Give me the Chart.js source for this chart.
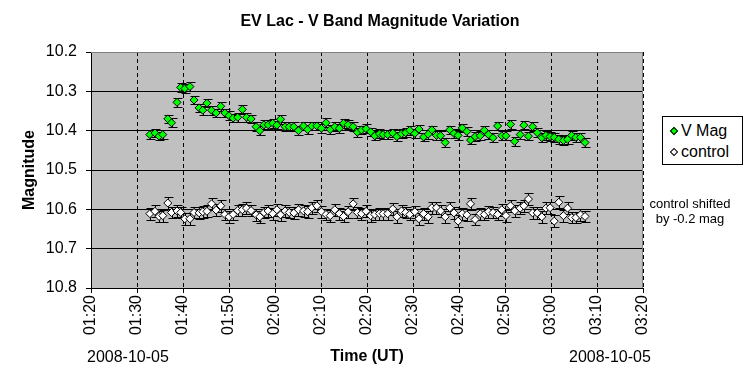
<!DOCTYPE html>
<html>
<head>
<meta charset="utf-8">
<script src="https://cdn.jsdelivr.net/npm/chart.js@4.4.0/dist/chart.umd.min.js"></script>
<style>
    body { margin: 0; background: #fff; font-family: "Liberation Sans", Arial, sans-serif; }
    #wrap { position: relative; width: 750px; height: 386px; }
    .date { position: absolute; top: 348px; font-size: 16px; color: #000; }
    #legend {
        position: absolute; left: 662px; top: 116px; width: 79px; height: 47px;
        border: 1px solid #000; background: #fff; font-size: 16px;
    }
    #legend div { position: absolute; left: 0; height: 20px; line-height: 20px; }
    #legend span.mk {
        position: absolute; left: 8px; top: 7px; width: 4px; height: 4px;
        border: 1px solid #000; transform: rotate(45deg);
    }
    #legend span.txt { position: absolute; left: 18px; white-space: nowrap; }
    #note { position: absolute; left: 640px; top: 196px; width: 100px; text-align: center; font-size: 13px; line-height: 15px; }
</style>
</head>
<body>
<div id="wrap">
    <canvas id="magChart" width="750" height="386"></canvas>
    <div class="date" style="left:87px">2008-10-05</div>
    <div class="date" style="left:569px">2008-10-05</div>
    <div id="legend">
        <div style="top:4px"><span class="mk" style="background:#00ff00"></span><span class="txt">V Mag</span></div>
        <div style="top:25px"><span class="mk" style="background:#fff"></span><span class="txt">control</span></div>
    </div>
    <div id="note">control shifted<br>by -0.2 mag</div>
</div>
<script>
// tempos em minutos desde 00:00 UT
const times = [
    92.8, 93.9, 94.8, 95.6, 96.7, 97.5, 98.7, 99.5, 100.4, 101.5,
    102.4, 103.5, 104.3, 105.2, 106.2, 107.2, 108.2, 109.1, 110.0, 110.9,
    111.9, 112.9, 113.8, 114.8, 115.9, 116.7, 117.6, 118.5, 119.5, 120.4,
    121.2, 122.2, 123.1, 124.1, 125.1, 126.2, 127.1, 128.0, 129.1, 130.1,
    131.1, 132.0, 133.0, 134.0, 134.9, 135.9, 137.0, 137.9, 138.8, 139.8,
    140.8, 141.7, 142.7, 143.5, 144.5, 145.6, 146.5, 147.5, 148.4, 149.3,
    150.4, 151.3, 152.3, 153.3, 154.1, 155.1, 156.0, 157.0, 158.0, 158.9,
    159.8, 160.7, 161.7, 162.5, 163.5, 164.6, 165.5, 166.4, 167.4, 168.4,
    169.3, 170.2, 171.2, 172.1, 173.3, 174.1, 175.1, 176.0, 177.0, 178.0,
    178.9, 179.8, 180.7, 181.7, 182.7, 183.6, 184.5, 185.4, 186.4, 187.4
];

const vMag = [
    10.410, 10.406, 10.414, 10.410, 10.370, 10.380, 10.328, 10.290, 10.293, 10.288,
    10.322, 10.342, 10.348, 10.330, 10.348, 10.355, 10.338, 10.355, 10.362, 10.368,
    10.366, 10.346, 10.366, 10.370, 10.390, 10.400, 10.385, 10.385, 10.381, 10.386,
    10.371, 10.390, 10.390, 10.390, 10.400, 10.388, 10.397, 10.388, 10.388, 10.394,
    10.380, 10.397, 10.390, 10.394, 10.381, 10.385, 10.390, 10.404, 10.398, 10.395,
    10.403, 10.413, 10.408, 10.410, 10.410, 10.406, 10.415, 10.408, 10.405, 10.399,
    10.407, 10.396, 10.416, 10.409, 10.398, 10.412, 10.413, 10.430, 10.398, 10.407,
    10.412, 10.393, 10.402, 10.424, 10.415, 10.413, 10.399, 10.410, 10.418, 10.388,
    10.413, 10.413, 10.384, 10.427, 10.410, 10.386, 10.414, 10.390, 10.405, 10.418,
    10.412, 10.415, 10.417, 10.422, 10.425, 10.422, 10.412, 10.417, 10.417, 10.430
];

const controlMag = [
    10.611, 10.605, 10.618, 10.616, 10.584, 10.608, 10.604, 10.608, 10.624, 10.624,
    10.608, 10.609, 10.606, 10.605, 10.586, 10.602, 10.591, 10.613, 10.619, 10.613,
    10.603, 10.601, 10.597, 10.603, 10.614, 10.619, 10.608, 10.604, 10.611, 10.601,
    10.614, 10.604, 10.608, 10.609, 10.601, 10.604, 10.606, 10.596, 10.591, 10.606,
    10.613, 10.616, 10.601, 10.611, 10.618, 10.606, 10.586, 10.608, 10.611, 10.605,
    10.616, 10.613, 10.611, 10.611, 10.611, 10.599, 10.619, 10.604, 10.608, 10.613,
    10.606, 10.624, 10.611, 10.619, 10.596, 10.596, 10.604, 10.619, 10.596, 10.609,
    10.630, 10.611, 10.614, 10.586, 10.626, 10.611, 10.613, 10.606, 10.608, 10.613,
    10.601, 10.616, 10.591, 10.604, 10.597, 10.591, 10.574, 10.609, 10.609, 10.619,
    10.597, 10.596, 10.630, 10.582, 10.616, 10.597, 10.621, 10.621, 10.614, 10.618
];

const vErr = 0.011;
const controlErr = 0.015;

const timeTicks = ['01:20', '01:30', '01:40', '01:50', '02:00', '02:10', '02:20',
    '02:30', '02:40', '02:50', '03:00', '03:10', '03:20'];
const magTicks = ['10.2', '10.3', '10.4', '10.5', '10.6', '10.7', '10.8'];

Chart.defaults.font.family = '"Liberation Sans", Arial, sans-serif';
Chart.defaults.font.size = 16;
Chart.defaults.color = '#000';

const toPoints = (ys) => ys.map((v, i) => ({ x: times[i], y: v }));

// fundo cinza, moldura e barras de erro
const plotExtras = {
    id: 'plotExtras',
    beforeDraw(chart) {
        const a = chart.chartArea;
        const ctx = chart.ctx;
        ctx.save();
        ctx.fillStyle = '#c0c0c0';
        ctx.fillRect(a.left, a.top, a.right - a.left, a.bottom - a.top);
        ctx.restore();
    },
    beforeDatasetsDraw(chart) {
        const { ctx, chartArea: a, scales: { x, y } } = chart;
        ctx.save();
        ctx.strokeStyle = '#808080';
        ctx.lineWidth = 1;
        ctx.beginPath();
        ctx.moveTo(a.left, a.top + 0.5);
        ctx.lineTo(a.right - 0.5, a.top + 0.5);
        ctx.lineTo(a.right - 0.5, a.bottom);
        ctx.stroke();

        ctx.strokeStyle = '#000';
        chart.data.datasets.forEach(ds => {
            ds.data.forEach(p => {
                const px = Math.round(x.getPixelForValue(p.x)) + 0.5;
                const top = Math.round(y.getPixelForValue(p.y - ds.err)) + 0.5;
                const bot = Math.round(y.getPixelForValue(p.y + ds.err)) + 0.5;
                ctx.beginPath();
                ctx.moveTo(px, top);
                ctx.lineTo(px, bot);
                ctx.moveTo(px - 4, top);
                ctx.lineTo(px + 5, top);
                ctx.moveTo(px - 4, bot);
                ctx.lineTo(px + 5, bot);
                ctx.stroke();
            });
        });
        ctx.restore();
    }
};

new Chart(document.getElementById('magChart'), {
    type: 'scatter',
    data: {
        datasets: [{
            label: 'V Mag',
            data: toPoints(vMag),
            err: vErr,
            pointStyle: 'rectRot',
            pointRadius: 4,
            pointBackgroundColor: '#00ff00',
            pointBorderColor: '#000',
            pointBorderWidth: 1
        }, {
            label: 'control',
            data: toPoints(controlMag),
            err: controlErr,
            pointStyle: 'rectRot',
            pointRadius: 4,
            pointBackgroundColor: '#fff',
            pointBorderColor: '#000',
            pointBorderWidth: 1
        }]
    },
    options: {
        responsive: false,
        animation: false,
        layout: { padding: { left: 10, right: 0, top: 0, bottom: 0 } },
        plugins: {
            legend: { display: false },
            tooltip: { enabled: false },
            title: {
                display: true,
                text: 'EV Lac - V Band Magnitude Variation',
                font: { size: 16, weight: 'bold' },
                padding: { top: 12, bottom: 20.8 }
            }
        },
        scales: {
            x: {
                type: 'linear',
                min: 80,
                max: 200,
                afterFit: (s) => { s.height = 98; },
                ticks: {
                    stepSize: 10,
                    autoSkip: false,
                    maxRotation: 90,
                    minRotation: 90,
                    padding: 2,
                    callback: (v) => timeTicks[Math.round((v - 80) / 10)]
                },
                grid: { color: '#000', tickColor: '#000', tickLength: 5, tickBorderDash: [] },
                border: { color: '#000', dash: [4, 3] },
                title: {
                    display: true,
                    text: 'Time (UT)',
                    font: { size: 16, weight: 'bold' },
                    padding: { top: 0, bottom: 19.4 }
                }
            },
            y: {
                reverse: true,
                min: 10.2,
                max: 10.8,
                afterFit: (s) => { s.width = 81; },
                ticks: {
                    stepSize: 0.1,
                    padding: 9,
                    callback: (v) => magTicks[Math.round((v - 10.2) * 10)]
                },
                grid: {
                    color: (c) => (c.tick && Math.abs(c.tick.value - 10.2) < 1e-6) ? '#808080' : '#000',
                    tickColor: '#000',
                    tickLength: 5
                },
                border: { color: '#000' },
                title: {
                    display: true,
                    text: 'Magnitude',
                    font: { size: 16, weight: 'bold' },
                    padding: { top: 10.4, bottom: 0 }
                }
            },
            spacer: {
                type: 'linear',
                position: 'right',
                afterFit: (s) => { s.width = 107; },
                ticks: { display: false },
                grid: { display: false, drawOnChartArea: false },
                border: { display: false }
            }
        }
    },
    plugins: [plotExtras]
});
</script>
</body>
</html>
